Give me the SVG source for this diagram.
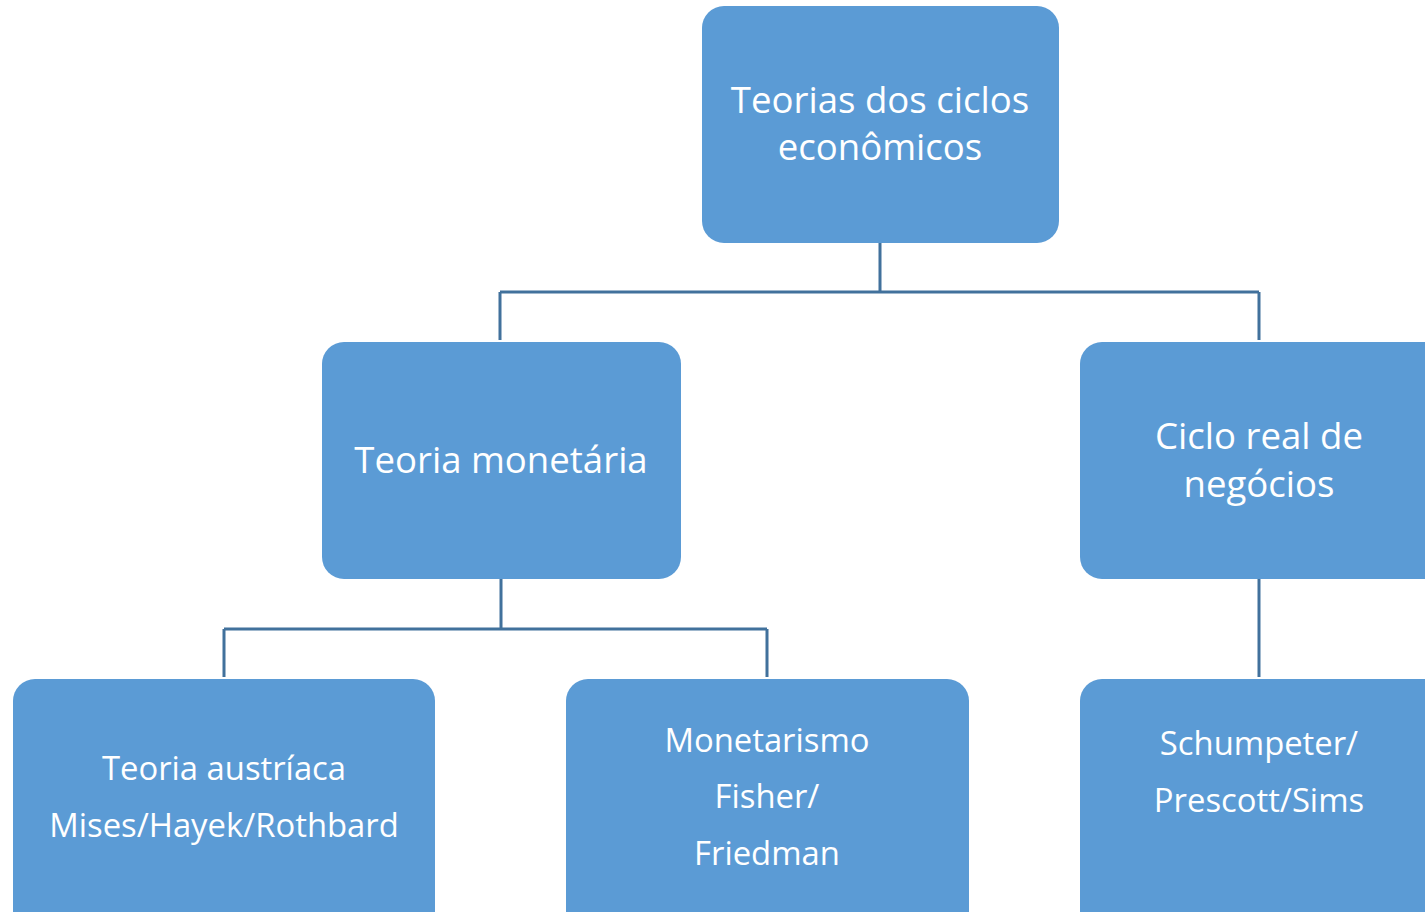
<svg xmlns="http://www.w3.org/2000/svg" width="1425" height="912" viewBox="0 0 1425 912">
<style>
.box{fill:#5B9BD5;}
.t{fill:#FFFFFF;font-family:"Open Sans","Liberation Sans",sans-serif;text-anchor:middle;}
.big{font-size:36.6px;}
.small{font-size:32.8px;}
.conn{fill:none;stroke:#41719C;stroke-width:3;}
</style>
<rect width="1425" height="912" fill="#FFFFFF"/>
<g id="connectors">
<path class="conn" d="M880,243 V292 M500,292 H1259 M500,292 V340 M1259,292 V340"/>
<path class="conn" d="M501,579 V629 M224,629 H767 M224,629 V677 M767,629 V677"/>
<path class="conn" d="M1259,579 V677"/>
</g>
<g id="root">
<rect class="box" x="702" y="6" width="357" height="237" rx="22"/>
<text class="t big" x="880" y="113">Teorias dos ciclos</text>
<text class="t big" x="880" y="160">econômicos</text>
</g>
<g id="teoria-monetaria">
<rect class="box" x="322" y="342" width="359" height="237" rx="22"/>
<text class="t big" x="501" y="473">Teoria monetária</text>
</g>
<g id="ciclo-real">
<rect class="box" x="1080" y="342" width="370" height="237" rx="22"/>
<text class="t big" x="1259" y="449">Ciclo real de</text>
<text class="t big" x="1259" y="497">negócios</text>
</g>
<g id="teoria-austriaca">
<rect class="box" x="13" y="679" width="422" height="260" rx="22"/>
<text class="t small" x="224" y="780">Teoria austríaca</text>
<text class="t small" x="224" y="837">Mises/Hayek/Rothbard</text>
</g>
<g id="monetarismo">
<rect class="box" x="566" y="679" width="403" height="260" rx="22"/>
<text class="t small" x="767" y="752">Monetarismo</text>
<text class="t small" x="767" y="808">Fisher/</text>
<text class="t small" x="767" y="865">Friedman</text>
</g>
<g id="schumpeter">
<rect class="box" x="1080" y="679" width="370" height="260" rx="22"/>
<text class="t small" x="1259" y="755">Schumpeter/</text>
<text class="t small" x="1259" y="812">Prescott/Sims</text>
</g>
</svg>
